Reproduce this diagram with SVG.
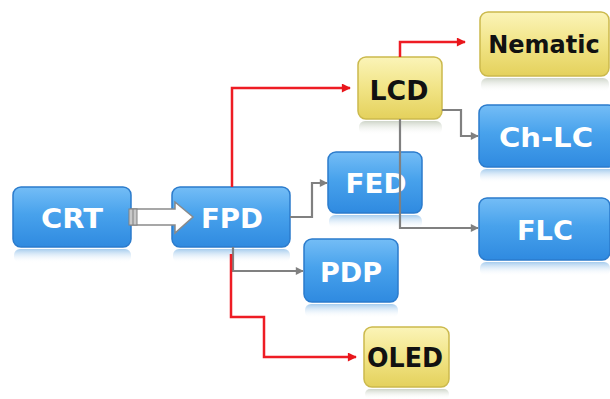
<svg xmlns="http://www.w3.org/2000/svg" width="610" height="399" viewBox="0 0 610 399">
<defs>
<linearGradient id="gb" x1="0" y1="0" x2="0" y2="1">
<stop offset="0" stop-color="#74bdf6"/><stop offset="0.45" stop-color="#48a2ec"/><stop offset="1" stop-color="#2f8ae0"/>
</linearGradient>
<linearGradient id="gy" x1="0" y1="0" x2="0" y2="1">
<stop offset="0" stop-color="#fbf4b8"/><stop offset="0.5" stop-color="#f1e486"/><stop offset="1" stop-color="#e4d15c"/>
</linearGradient>
<linearGradient id="rb" x1="0" y1="0" x2="0" y2="1">
<stop offset="0" stop-color="#7fb6e6" stop-opacity="0.7"/><stop offset="1" stop-color="#ffffff" stop-opacity="0"/>
</linearGradient>
<linearGradient id="ry" x1="0" y1="0" x2="0" y2="1">
<stop offset="0" stop-color="#b8c2b0" stop-opacity="0.7"/><stop offset="1" stop-color="#ffffff" stop-opacity="0"/>
</linearGradient>
<marker id="ar" viewBox="0 0 10 10" refX="9" refY="5" markerWidth="10" markerHeight="9" orient="auto" markerUnits="userSpaceOnUse">
<path d="M0,0 L10,5 L0,10 z" fill="#e8161b"/>
</marker>
<marker id="ag" viewBox="0 0 10 10" refX="9" refY="5" markerWidth="9" markerHeight="8" orient="auto" markerUnits="userSpaceOnUse">
<path d="M0,0 L10,5 L0,10 z" fill="#808080"/>
</marker>
</defs>
<style>
.b{fill:url(#gb);stroke:#2b7bcc;stroke-width:1.5}
.y{fill:url(#gy);stroke:#cbb94c;stroke-width:1.5}
.rb{fill:url(#rb)}
.ry{fill:url(#ry)}
.tw{font-family:"DejaVu Sans",Verdana,sans-serif;font-weight:bold;font-size:27px;fill:#ffffff;text-anchor:middle}
.tk{font-family:"DejaVu Sans",Verdana,sans-serif;font-weight:bold;font-size:27px;fill:#111111;text-anchor:middle}
.red{fill:none;stroke:#ee1c24;stroke-width:2.5}
.gry{fill:none;stroke:#808080;stroke-width:2.2}
</style>
<rect width="610" height="399" fill="#ffffff"/>
<g id="CRT">
<rect class="rb" x="14" y="249" width="117" height="14" rx="6"/>
<rect class="b" x="13" y="187" width="118" height="60" rx="8"/>
<text class="tw" x="72" y="228" textLength="62" lengthAdjust="spacingAndGlyphs">CRT</text>
</g>
<g id="FPD">
<rect class="rb" x="173" y="249" width="117" height="14" rx="6"/>
<rect class="b" x="172" y="187" width="118" height="60" rx="8"/>
<text class="tw" x="232" y="228" textLength="62" lengthAdjust="spacingAndGlyphs">FPD</text>
</g>
<g id="LCD">
<rect class="ry" x="359" y="121" width="83" height="14" rx="6"/>
<rect class="y" x="358" y="57" width="84" height="62" rx="8"/>
<text class="tk" x="399" y="100" textLength="59" lengthAdjust="spacingAndGlyphs">LCD</text>
</g>
<g id="Nematic">
<rect class="ry" x="481" y="78" width="128" height="14" rx="6"/>
<rect class="y" x="480" y="12" width="129" height="64" rx="8"/>
<text class="tk" x="544" y="53" style="font-size:24px">Nematic</text>
</g>
<g id="ChLC">
<rect class="rb" x="480" y="169" width="136" height="14" rx="6"/>
<rect class="b" x="479" y="105" width="137" height="62" rx="8"/>
<text class="tw" x="546" y="147" textLength="94" lengthAdjust="spacingAndGlyphs">Ch-LC</text>
</g>
<g id="FED">
<rect class="rb" x="329" y="215" width="93" height="14" rx="6"/>
<rect class="b" x="328" y="152" width="94" height="61" rx="8"/>
<text class="tw" x="376" y="193" textLength="61" lengthAdjust="spacingAndGlyphs">FED</text>
</g>
<g id="FLC">
<rect class="rb" x="480" y="262" width="130" height="14" rx="6"/>
<rect class="b" x="479" y="198" width="131" height="62" rx="8"/>
<text class="tw" x="545" y="240" textLength="56" lengthAdjust="spacingAndGlyphs">FLC</text>
</g>
<g id="PDP">
<rect class="rb" x="305" y="304" width="93" height="14" rx="6"/>
<rect class="b" x="304" y="239" width="94" height="63" rx="8"/>
<text class="tw" x="351" y="282" textLength="62" lengthAdjust="spacingAndGlyphs">PDP</text>
</g>
<g id="OLED">
<rect class="ry" x="365" y="389" width="84" height="10" rx="5"/>
<rect class="y" x="364" y="327" width="85" height="60" rx="8"/>
<text class="tk" x="405" y="367" textLength="76" lengthAdjust="spacingAndGlyphs">OLED</text>
</g>
<g id="connectors">
<polygon points="131,209 175,209 175,202 193,217 175,233 175,225 131,225" fill="#ffffff" stroke="#8a8a8a" stroke-width="1.5"/>
<rect x="129" y="209" width="8" height="16" fill="#c8c8c8" stroke="#808080" stroke-width="1"/>
<line x1="133" y1="209" x2="133" y2="225" stroke="#808080" stroke-width="1"/>
<polyline class="red" points="232,187 232,88 350,88" marker-end="url(#ar)"/>
<polyline class="red" points="400,57 400,42 465,42" marker-end="url(#ar)"/>
<polyline class="gry" points="442,110 461,110 461,136 478,136" marker-end="url(#ag)"/>
<polyline class="gry" points="400,119 400,228 478,228" marker-end="url(#ag)"/>
<polyline class="gry" points="290,217 312,217 312,183 327,183" marker-end="url(#ag)"/>
<polyline class="gry" points="233,247 233,271 303,271" marker-end="url(#ag)"/>
<polyline class="red" points="231,254 231,317 264,317 264,357 356,357" marker-end="url(#ar)"/>
</g>
</svg>
